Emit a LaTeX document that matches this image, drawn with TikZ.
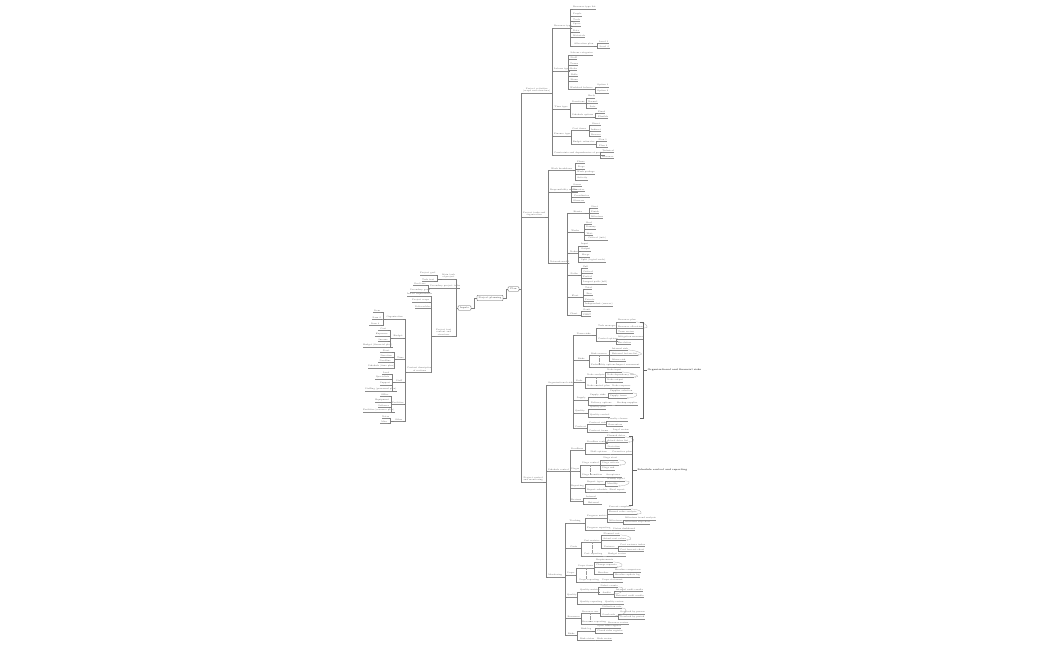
\documentclass[tikz,border=0pt]{standalone}
\usetikzlibrary{arrows.meta}
\tikzset{
  lbl/.style={inner xsep=0pt, inner ysep=0.4pt, font=\fontsize{2.1}{2.5}\selectfont, text=black!65, align=center},
  uline/.style={draw=black!45, line width=0.35pt},
  conn/.style={draw=black!50, line width=0.35pt},
  box/.style={draw=black!65, rounded corners=0.8pt, line width=0.4pt, inner sep=0.6pt, font=\fontsize{2.3}{2.7}\selectfont, text=black!75, fill=white},
  rel/.style={draw=black!35, line width=0.25pt, -{Stealth[length=1.2pt,width=1pt]}},
  reld/.style={draw=black!40, line width=0.25pt, densely dotted},
  brk/.style={draw=black!60, line width=0.45pt},
  brl/.style={font=\bfseries\fontsize{2.4}{2.8}\selectfont, inner sep=0.5pt, anchor=west, text=black!80},
}
\newcommand\nd[5]{\node[lbl, minimum width={(#3-#2)*1pt}, anchor=south west] (#1) at (#2,#4) {#5};\draw[uline] (#1.south west) -- (#1.south east);}
\newcommand\rk[5]{\foreach \yy/\xe/\lt [count=\nn] in {#5}{\nd{#4\nn}{#3}{\xe}{\yy}{\lt}\draw[conn] (#1.south east) -- (#1.south east -| #2,0) |- (#4\nn.south west);}}
\newcommand\lk[5]{\foreach \yy/\xs/\lt [count=\nn] in {#5}{\nd{#4\nn}{\xs}{#3}{\yy}{\lt}\draw[conn] (#1.south west) -- (#1.south west -| #2,0) |- (#4\nn.south east);}}
\newcommand\arc[2]{\draw[rel] (#1.south east) .. controls +(9,0) and +(9,0) .. (#2.south east);}
\begin{document}
\begin{tikzpicture}[x=1pt,y=-1pt]
\fill[white] (0,0) rectangle (1050,650);
\useasboundingbox (0,0) rectangle (1050,650);

% central boxes
\node[box, minimum width=26pt, minimum height=5.5pt] (root) at (490,298) {Project planning};
\node[box, minimum width=11pt, minimum height=4.5pt] (sb) at (513.5,289) {Plan};
\node[box, minimum width=13pt, minimum height=4.5pt] (lb) at (464.5,308) {Inputs};
\draw[conn] (root.east) -- (root.east -| 506,0) |- (sb.west);
\draw[conn] (root.west) -- (root.west -| 474,0) |- (lb.east);

% right main branches
\nd{A}{523}{547}{93}{Project activities\\(scope and structure)}
\nd{B}{523}{545}{217}{Project tasks and\\organisation}
\nd{C}{523}{543}{482}{Project control\\and monitoring}
\draw[conn] (sb.east) -- (sb.east -| 521,0) |- (A.south west);
\draw[conn] (sb.east) -- (sb.east -| 521,0) |- (B.south west);
\draw[conn] (sb.east) -- (sb.east -| 521,0) |- (C.south west);

% A
\rk{A}{552}{554}{A}{28/567/Resource type, 71/565/Labour type, 109/568/Time type, 136/570/Finance type, 155/598/Constraints and dependencies of project}
\rk{A1}{570}{573}{A1}{9/594/Resource type list, 16/580/People, 21/579/Tools, 26/578/Space, 32/578/Data, 37/580/Materials, 46/594/Allocation plan}
\rk{A17}{597}{598}{A17}{43/609/Level 1, 48/610/Level 2}
\rk{A2}{568}{570}{A2}{55/593/Labour categories, 59/577/Staff, 65/578/Teams, 70/577/Roles, 76/578/Skills, 81/578/Hours, 89/592/Workload balance}
\rk{A27}{595}{597}{A27}{87/606/Option 1, 93/607/Option 2}
\rk{A3}{570}{572}{A3}{103/583/Durations, 117/593/Schedule options}
\rk{A31}{586}{588}{A31}{98/595/Early, 103/596/Normal, 108/597/Late}
\rk{A32}{595}{598}{A32}{113/605/Fixed, 118/607/Flexible}
\rk{A4}{571}{572}{A4}{130/586/Cost items, 144/595/Budget estimates}
\rk{A41}{589}{591}{A41}{125/601/Direct, 131/599/Indirect, 136/600/Reserve}
\rk{A42}{596}{598}{A42}{141/607/Plan 1, 147/608/Plan 2}
\rk{A5}{600}{602}{A5}{152/614/Technical, 158/613/Resource}

% B
\rk{B}{548}{550}{B}{170/573/Work breakdown, 192/570/Responsibility matrix, 263/563/Network model}
\rk{B1}{575}{577}{B1}{163/583/Phase, 169/585/Stage, 174/593/Work package, 180/585/Activity}
\rk{B2}{571}{573}{B2}{186/580/Owner, 191/583/Executor, 197/590/Coordinator, 202/582/Observer}
\rk{B3}{567}{570}{B3}{213/585/Events, 232/580/Works, 253/575/Nodes, 275/578/Paths, 297/580/Float, 315/577/Chart}
\rk{B31}{589}{591}{B31}{208/598/Start, 213/598/Finish, 218/600/Milestone}
\rk{B32}{584}{586}{B32}{224/592/Real, 229/595/Dummy, 235/593/Wait, 240/608/Critical (info)}
\rk{B33}{578}{581}{B33}{246/587/Input, 251/590/Output, 257/590/Merge, 262/602/Split (logical node)}
\rk{B34}{581}{583}{B34}{268/588/Full, 273/593/Critical, 278/591/Partial, 284/606/Longest path (full)}
\rk{B35}{583}{585}{B35}{289/591/Total, 295/593/Free, 301/594/Private, 306/609/Independent (reserve)}
\rk{B36}{581}{583}{B36}{311/588/Gantt, 316/591/PERT}

% C
\rk{C}{546}{548}{C}{385/572/Organisational risks, 471/568/Schedule control, 577/562/Monitoring}
\rk{C1}{573}{575}{C1}{335/592/Team risks, 360/587/Risks, 382/583/Node, 400/587/Supply, 413/585/Quality, 428/585/Contract}
\rk{C11}{596}{598}{C11}{328/612/Task manager, 341/615/Control options}
\rk{C111}{616}{618}{C111}{322/630/Resource plan, 328/639/Resource allocation, 333/630/Team review}
\rk{C112}{616}{618}{C112}{339/638/Mitigation measures, 344/630/Escalation}
\rk{C12}{589}{591}{C12}{355/605/Risk sources, 367/612/Probability options}
\rk{C121}{609}{612}{C121}{350/626/Internal risk, 355/632/External factors list, 361/623/Minor risk}
\rk{C122}{614}{616}{C122}{367/632/Impact assessment}
\rk{C13}{585}{587}{C13}{377/602/Node analysis, 388/605/Node control plan}
\rk{C131}{605}{607}{C131}{372/620/Node input, 377/628/Node dependency list, 382/617/Node output}
\rk{C132}{609}{612}{C132}{388/628/Node response}
\rk{C14}{588}{590}{C14}{397/605/Supply risks, 405/612/Delivery options}
\rk{C141}{608}{610}{C141}{393/630/Supplier selection, 398/625/Supply terms}
\rk{C142}{614}{617}{C142}{405/632/Backup supplier}
\rk{C15}{588}{590}{C15}{409/602/Quality plan, 417/608/Quality control}
\rk{C16}{587}{589}{C16}{424/603/Contract risk, 432/608/Contract terms}
\rk{C161}{606}{608}{C161}{421/626/Penalty clauses, 426/620/Guarantees}
\rk{C162}{610}{613}{C162}{432/628/Legal review}

\rk{C2}{570}{571}{C2}{450/583/Deadlines, 471/577/Stages, 488/583/Reporting, 501/580/Reviews}
\rk{C21}{585}{587}{C21}{443/602/Deadline control, 454/610/Shift options}
\rk{C211}{605}{607}{C211}{437/623/Planned dates, 442/628/Actual dates list, 448/620/Deviation}
\rk{C212}{611}{612}{C212}{454/627/Corrective plan}
\rk{C22}{580}{582}{C22}{465/597/Stage control, 477/600/Stage transition}
\rk{C221}{600}{602}{C221}{460/618/Stage start, 465/619/Stage criteria, 470/613/Stage end}
\rk{C222}{602}{604}{C222}{477/622/Acceptance}
\rk{C23}{585}{587}{C23}{484/602/Report types, 492/604/Report schedule}
\rk{C231}{605}{607}{C231}{481/623/Weekly report, 486/618/Monthly}
\rk{C232}{606}{608}{C232}{492/626/Final report}
\rk{C24}{583}{585}{C24}{498/597/Internal, 504/602/External}

\rk{C3}{565}{567}{C3}{523/583/Tracking, 548/580/Costs, 575/573/Scope, 597/575/Quality, 618/580/Resources, 635/575/Risks}
\rk{C31}{585}{587}{C31}{518/603/Progress metrics, 530/608/Progress reporting}
\rk{C311}{607}{609}{C311}{509/627/Percent complete, 514/630/Earned value analysis, 522/620/Milestones}
\rk{C3113}{623}{625}{C3113}{520/647/Milestone trend analysis, 524/647/Milestone slip chart}
\rk{C312}{611}{613}{C312}{530/630/Status dashboard}
\rk{C32}{581}{583}{C32}{542/600/Cost metrics, 556/603/Cost reporting}
\rk{C321}{601}{603}{C321}{535/620/Planned cost, 540/623/Actual cost values, 548/615/Variance}
\rk{C3213}{618}{620}{C3213}{546/640/Cost variance index, 551/640/Cost forecast chart}
\rk{C322}{606}{608}{C322}{556/625/Budget review}
\rk{C33}{576}{578}{C33}{568/592/Scope items, 582/600/Scope reporting}
\rk{C331}{594}{596}{C331}{562/612/Requirements, 567/615/Change requests, 574/610/Baseline}
\rk{C3313}{613}{615}{C3313}{572/635/Baseline comparison, 577/635/Baseline update log}
\rk{C332}{601}{602}{C332}{582/620/Scope statement}
\rk{C34}{577}{580}{C34}{592/597/Quality metrics, 604/602/Quality reporting}
\rk{C341}{598}{600}{C341}{587/618/Defect counts, 594/613/Audits}
\rk{C3412}{614}{616}{C3412}{591/638/Internal audit results, 597/638/External audit results}
\rk{C342}{603}{605}{C342}{604/622/Quality review}
\rk{C35}{581}{582}{C35}{613/598/Resource use, 624/600/Resource reporting}
\rk{C351}{600}{602}{C351}{608/620/Utilisation rate, 616/615/Overloads}
\rk{C3512}{618}{620}{C3512}{614/640/Overload by person, 619/640/Overload by period}
\rk{C352}{605}{608}{C352}{624/623/Resource review}
\rk{C36}{577}{580}{C36}{631/592/Risk log, 640/592/Risk status}
\rk{C361}{595}{597}{C361}{628/618/Open risks register, 633/618/Closed risks register}
\rk{C362}{595}{597}{C362}{640/612/Risk review}

% relationship arcs
\arc{C1111}{C1112}
\arc{C1211}{C1212}
\arc{C1311}{C1312}
\arc{C1411}{C1412}
\arc{C2111}{C2112}
\arc{C2211}{C2212}
\arc{C2311}{C2312}
\arc{C3111}{C3112}
\arc{C3211}{C3212}
\arc{C3311}{C3312}
\arc{C3411}{C3412}
\arc{C3511}{C3512}
% dotted relations
\foreach \p in {C12,C13,C22,C32,C33,C35}{\draw[reld] (\p1.south) -- (\p1.south |- \p2.north);}

% summary brackets
\node[brl] (S1) at (647,370) {Organisational and financial risks};
\draw[brk] (640,322) -- (643,322) -- (643,418) -- (640,418);
\draw[brk] (643,370) -- (S1.west);
\node[brl] (S2) at (637,470) {Schedule control and reporting};
\draw[brk] (629,436) -- (632,436) -- (632,505) -- (629,505);
\draw[brk] (632,470) -- (S2.west);

% left side
\nd{L1}{442}{453}{279}{Main task\\of project}
\nd{L2}{430}{453}{288}{Secondary project tasks}
\nd{L3}{435}{452}{336}{Project text\\content and\\structure}
\draw[conn] (lb.west) -- (lb.west -| 456,0) |- (L1.south east);
\draw[conn] (lb.west) -- (lb.west -| 456,0) |- (L2.south east);
\draw[conn] (lb.west) -- (lb.west -| 456,0) |- (L3.south east);
\lk{L1}{437}{434}{L1}{275/420/Project goal, 281/422/Task text}
\lk{L2}{428}{426}{L2}{285/413/Goal tree, 292/410/Secondary goals}
\lk{L3}{431}{429}{L3}{296/407/Initial requirements, 302/412/Project scope, 308/415/Deliverables, 372/407/Content description\\of sections}
\lk{L34}{405}{403}{L34}{319/386/Organisation, 338/393/Budget, 359/397/Time, 382/395/Staff, 404/392/Facilities, 421/394/Other}
\lk{L341}{383}{381}{L341}{312/373/Item, 319/372/Item 2, 325/369/Item 3}
\lk{L342}{390}{388}{L342}{330/378/Cost, 336/375/Expenses, 341/378/Income, 347/363/Budget (financial plan)}
\lk{L343}{394}{392}{L343}{352/380/Start, 357/380/Duration, 362/378/Deadline, 368/368/Schedule (time plan)}
\lk{L344}{392}{390}{L344}{374/382/Lead, 379/375/Specialists, 385/380/Support, 391/365/Staffing (personnel plan)}
\lk{L345}{391}{389}{L345}{396/380/Office, 402/375/Equipment, 407/378/Software, 412/363/Facilities (resource plan)}
\lk{L346}{390}{388}{L346}{418/382/Notes, 423/380/Misc}
\end{tikzpicture}
\end{document}
